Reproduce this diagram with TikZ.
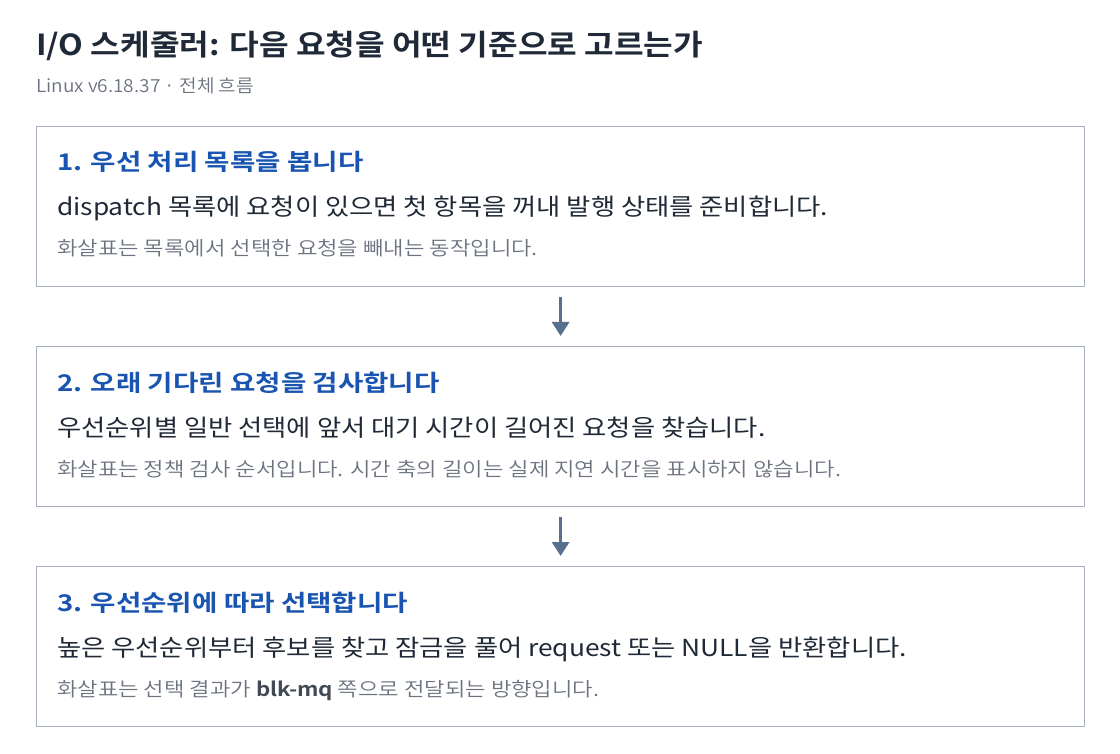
\documentclass[tikz,border=0pt]{standalone}
\usepackage{fontspec}
\setmainfont{Noto Sans CJK KR}[BoldFont={Noto Sans CJK KR Bold}]
\newfontfamily\notefont{Noto Sans CJK KR DemiLight}[BoldFont={Noto Sans CJK KR Bold}]
\usepackage{xcolor}
\usepackage{tikz}
\usetikzlibrary{arrows.meta}
\definecolor{inkdark}{RGB}{31,41,55}
\definecolor{stepblue}{RGB}{24,84,176}
\definecolor{notegray}{RGB}{107,114,128}
\definecolor{boxline}{RGB}{166,176,192}
\definecolor{flowslate}{RGB}{88,112,142}

\begin{document}
\begin{tikzpicture}[x=1pt, y=-1pt,
    box/.style={draw=boxline, line width=1.2pt, minimum width=1048pt, minimum height=160pt, anchor=north west, inner sep=0pt},
    txt/.style={anchor=base west, inner sep=0pt},
    head/.style={txt, text=stepblue, font=\fontsize{23}{27}\selectfont\bfseries\addfontfeature{FakeStretch=1.2}},
    body/.style={txt, text=inkdark, font=\fontsize{23.5}{28}\selectfont\addfontfeature{FakeStretch=1.12}},
    note/.style={txt, text=notegray, font=\notefont\fontsize{19.5}{23}\selectfont\addfontfeature{FakeStretch=1.14}},
    flow/.style={line width=3pt, draw=flowslate, -{Triangle[length=14pt,width=17pt]}, shorten <=10pt, shorten >=10pt}
]
\useasboundingbox (0,0) rectangle (1120,754);

\node[txt, text=inkdark, font=\fontsize{29}{34}\selectfont\bfseries\addfontfeature{FakeStretch=1.11}] (title) at (36,56) {I/O 스케줄러: 다음 요청을 어떤 기준으로 고르는가};
\node[txt, text=notegray, font=\notefont\fontsize{18}{22}\selectfont\addfontfeature{FakeStretch=1.06}] (sub) at (36,93) {Linux v6.18.37 · 전체 흐름};

% step boxes
\node[box] (s1) at (36,126) {};
\node[box] (s2) at (36,346) {};
\node[box] (s3) at (36,566) {};

\node[head] (h1) at (57,171) {1. 우선 처리 목록을 봅니다};
\node[body] (b1) at (57,216) {dispatch 목록에 요청이 있으면 첫 항목을 꺼내 발행 상태를 준비합니다.};
\node[note] (n1) at (57,256) {화살표는 목록에서 선택한 요청을 빼내는 동작입니다.};

\node[head] (h2) at (57,391) {2. 오래 기다린 요청을 검사합니다};
\node[body] (b2) at (57,436) {우선순위별 일반 선택에 앞서 대기 시간이 길어진 요청을 찾습니다.};
\node[note] (n2) at (57,476) {화살표는 정책 검사 순서입니다. 시간 축의 길이는 실제 지연 시간을 표시하지 않습니다.};

\node[head] (h3) at (57,611) {3. 우선순위에 따라 선택합니다};
\node[body] (b3) at (57,656) {높은 우선순위부터 후보를 찾고 잠금을 풀어 request 또는 NULL을 반환합니다.};
\node[note] (n3) at (57,696) {화살표는 선택 결과가 \textcolor{inkdark!85}{\bfseries blk-mq} 쪽으로 전달되는 방향입니다.};

\draw[flow] (s1) -- (s2);
\draw[flow] (s2) -- (s3);
\end{tikzpicture}
\end{document}
